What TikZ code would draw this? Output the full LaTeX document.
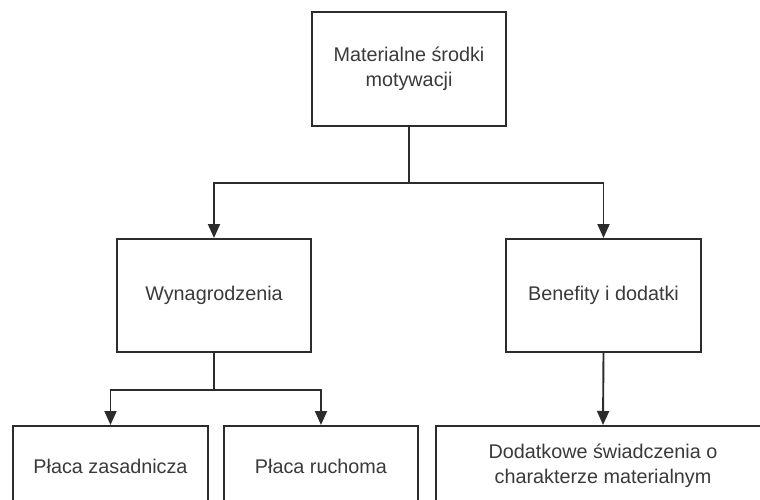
\documentclass[tikz,border=0pt]{standalone}
\usepackage{fontspec}
\setmainfont{Liberation Sans}
\usetikzlibrary{arrows.meta}
\definecolor{edgegray}{HTML}{2C2C2C}
\definecolor{textgray}{HTML}{3A3A3A}
\begin{document}
\begin{tikzpicture}[x=1pt,y=-1pt,
  box/.style={draw=edgegray, line width=2pt, fill=white, rectangle,
    inner sep=0pt, align=center, text=textgray,
    font=\fontsize{19.8}{24.5}\selectfont},
  link/.style={draw=edgegray, line width=1.9pt},
  arr/.style={link, -{Triangle[width=12pt,length=14pt]}}]
  \useasboundingbox (0,0) rectangle (760,500);
  \clip (0,0) rectangle (760,500);

  % level 1
  \node[box, minimum width=194pt, minimum height=114pt] (top) at (409,69)
    {Materialne środki\\motywacji};

  % level 2
  \node[box, minimum width=194pt, minimum height=113pt] (wyn) at (214,295.5)
    {Wynagrodzenia};
  \node[box, minimum width=195pt, minimum height=113pt] (ben) at (603.5,295.5)
    {Benefity i dodatki};

  % level 3
  \node[box, minimum width=195pt, minimum height=80pt] (pz) at (110.5,466)
    {Płaca zasadnicza};
  \node[box, minimum width=194pt, minimum height=80pt] (pr) at (321,466)
    {Płaca ruchoma};
  \node[box, minimum width=334pt, minimum height=80pt] (dod) at (603,466)
    {Dodatkowe świadczenia o\\charakterze materialnym};

  % branching points
  \coordinate (j1) at (409,183);
  \coordinate (j2) at (214,390);

  % connectors
  \draw[link] (top.south) -- (j1);
  \draw[arr] (j1) -| (wyn.north);
  \draw[arr] (j1) -| (ben.north);

  \draw[link] (wyn.south) -- (j2);
  \draw[arr] (j2) -| (pz.north);
  \draw[arr] (j2) -| (pr.north);

  \draw[arr] (ben.south) -- (dod.north);
\end{tikzpicture}
\end{document}
